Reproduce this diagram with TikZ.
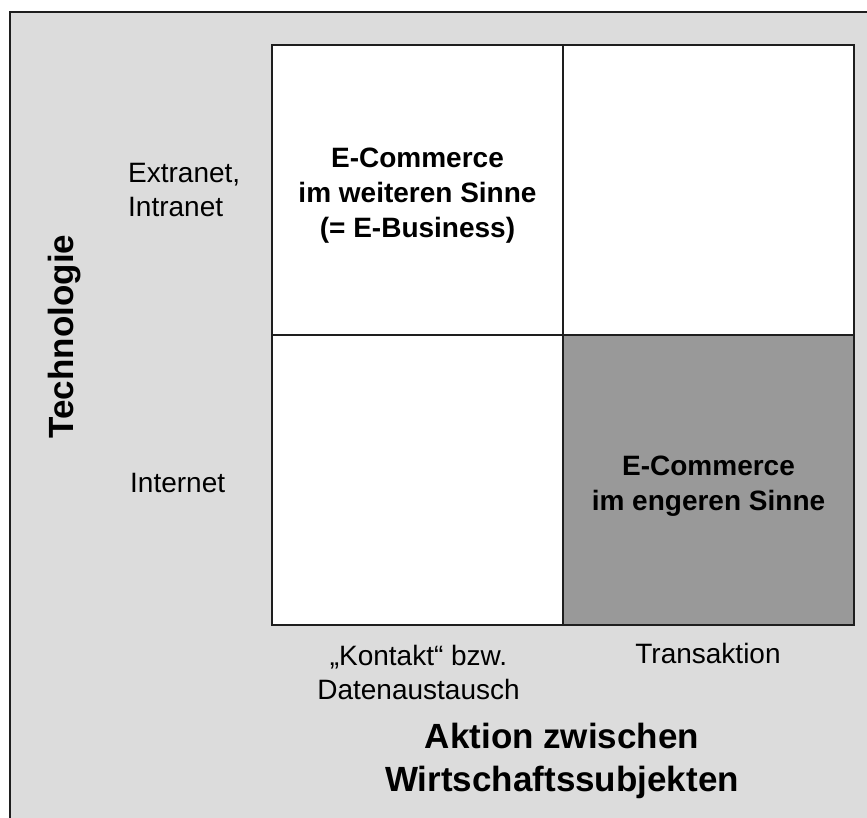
\documentclass[tikz,border=0pt]{standalone}
\usepackage{fontspec}
\setmainfont{Liberation Sans}
\definecolor{bg}{HTML}{DCDCDC}
\definecolor{cellgray}{HTML}{999999}
\definecolor{linec}{HTML}{1E1E1E}
\begin{document}
\begin{tikzpicture}[x=1pt,y=-1pt,
  gridline/.style={draw=linec,line width=2.2pt},
  lbl/.style={font=\fontsize{28}{34}\selectfont, inner sep=0pt, align=left},
  collbl/.style={font=\fontsize{28}{34}\selectfont, inner sep=0pt, align=center},
  celltext/.style={font=\fontsize{28}{35}\selectfont\bfseries, align=center, inner sep=0pt},
  axistitle/.style={font=\fontsize{35}{43}\selectfont\bfseries, align=center, inner sep=0pt}]
\useasboundingbox (0,0) rectangle (867,818);
% frame
\draw[fill=bg, draw=linec, line width=2pt] (10,12) rectangle (900,850);
% cells
\fill[white] (272,45) rectangle (563,335);
\fill[white] (563,45) rectangle (854,335);
\fill[white] (272,335) rectangle (563,625);
\fill[cellgray] (563,335) rectangle (854,625);
\draw[gridline] (272,45) rectangle (854,625);
\draw[gridline] (563,45) -- (563,625);
\draw[gridline] (272,335) -- (854,335);
% row labels
\node[lbl, anchor=base west] (ext) at (128,217) {Extranet,\\Intranet};
\node[lbl, anchor=base west] (int) at (130,492) {Internet};
\node[axistitle, rotate=90, anchor=base] (tech) at (73,336.5) {Technologie};
% cell texts
\node[celltext, anchor=base] (ecw) at (417.5,238) {E-Commerce\\im weiteren Sinne\\(= E-Business)};
\node[celltext, anchor=base] (ece) at (708.5,510) {E-Commerce\\im engeren Sinne};
% column labels
\node[collbl, anchor=base] (kont) at (418.5,699) {„Kontakt“ bzw.\\Datenaustausch};
\node[collbl, anchor=base] (trans) at (708,663) {Transaktion};
\node[axistitle, anchor=base] (akt) at (562,791) {Aktion zwischen\\Wirtschaftssubjekten};
\end{tikzpicture}
\end{document}
